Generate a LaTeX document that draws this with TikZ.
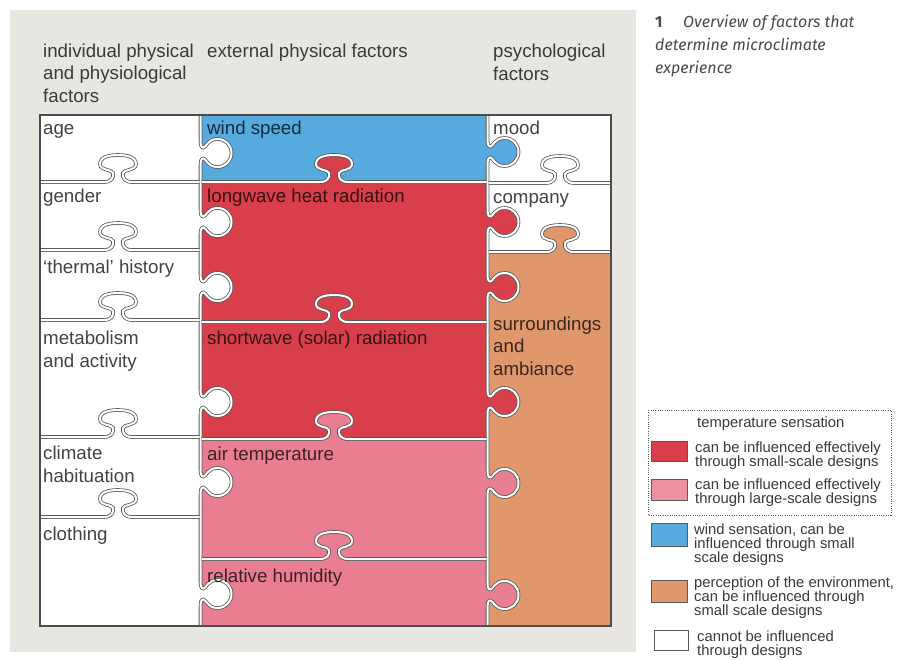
\documentclass[tikz,border=0pt]{standalone}
\usepackage{fontspec}
\setmainfont{Liberation Sans}
\newfontfamily\captionfont{Fira Sans}

\definecolor{panelgray}{HTML}{E7E6E1}
\definecolor{pzblue}{HTML}{56AADE}
\definecolor{pzred}{HTML}{D83F4A}
\definecolor{pzpink}{HTML}{E97E93}
\definecolor{pzorange}{HTML}{E0976B}
\definecolor{seamgray}{HTML}{5A5A5A}
\definecolor{txtgray}{HTML}{3A3A3A}
\definecolor{capgray}{HTML}{4A4A4A}

% knob outline pointing up from a horizontal seam (local coords, base on v=0)
\newcommand\hkc{.. controls (-7,0) and (-4,4) .. (-5,9) .. controls (-6,13) and (-18,11) .. (-18,18) .. controls (-18,25) and (-9,27) .. (0,27) .. controls (9,27) and (18,25) .. (18,18) .. controls (18,11) and (6,13) .. (5,9) .. controls (4,4) and (7,0) .. (14,0)}
% knob outline pointing right from a vertical seam
\newcommand\vkc{.. controls (-8,0) and (-5.5,0.5) .. (-5.5,3) .. controls (-5.5,5.5) and (-14,7) .. (-14,17) .. controls (-14,25) and (-8,31) .. (0,31) .. controls (8,31) and (14,25) .. (14,17) .. controls (14,7) and (5.5,5.5) .. (5.5,3) .. controls (5.5,0.5) and (8,0) .. (14,0)}
% knobs inserted into a seam path
\newcommand\hknob[2]{{[shift={(#1,#2)},yscale=-1] -- (-14,0) \hkc}}
\newcommand\vknob[2]{{[shift={(#1,#2)},rotate=90,xscale=-1] -- (-14,0) \vkc}}
% knob fills
\newcommand\knobfillH[3]{\fill[#1,shift={(#2,#3)},yscale=-1] (-14,0) \hkc -- cycle;}
\newcommand\knobfillV[3]{\fill[#1,shift={(#2,#3)},rotate=90,xscale=-1] (-14,0) \vkc -- cycle;}
% legend font with tight leading
\newcommand\legendfont{\fontsize{14.8}{13.8}\selectfont\lineskiplimit=-8pt\relax}

\begin{document}
\begin{tikzpicture}[x=1pt,y=-1pt,
  seam/.style={draw=seamgray, line width=0.8pt, double=white, double distance=2pt},
  rim/.style={draw=seamgray!85!black, line width=1.2pt},
  head/.style={anchor=base west, inner sep=0pt, align=left, text=txtgray,
    font={\fontsize{18.7}{22.5}\selectfont}},
  plabel/.style={anchor=base west, inner sep=0pt, align=left, text=black, text opacity=0.74,
    font={\fontsize{18.7}{22.5}\selectfont}},
  legtxt/.style={anchor=base west, inner sep=0pt, align=left, text=txtgray,
    font={\legendfont}},
  swatch/.style={draw=seamgray, line width=0.9pt},
  captxt/.style={anchor=base west, inner sep=0pt, align=left, text=capgray,
    font={\captionfont\itshape\fontsize{16}{23}\selectfont}}
]
\fill[white] (0,0) rectangle (901,659);
\useasboundingbox (0,0) rectangle (901,659);

% panel
\fill[panelgray] (10,10) rectangle (636,652);

% ---- puzzle fills ----
\fill[white] (40,115) rectangle (611,626);
\fill[pzblue]   (200.5,115) rectangle (487.5,182);
\fill[pzred]    (200.5,182) rectangle (487.5,439);
\fill[pzpink]   (200.5,439) rectangle (487.5,626);
\fill[pzorange] (487.5,252) rectangle (611,626);

% knobs of the middle column pointing up
\knobfillH{pzred}{334}{182}
\knobfillH{pzred}{334}{322}
\knobfillH{pzpink}{334}{439}
\knobfillH{pzpink}{334}{559}
% knobs of the right column pointing up
\knobfillH{white}{560}{183}
\knobfillH{pzorange}{560}{252}
% knobs of the left column into the middle column
\foreach \k in {153,222,287,402,482,594} {\knobfillV{white}{200.5}{\k}}
% knobs of the middle column into the right column
\knobfillV{pzblue}{487.5}{152}
\knobfillV{pzred}{487.5}{222}
\knobfillV{pzred}{487.5}{287}
\knobfillV{pzred}{487.5}{402}
\knobfillV{pzpink}{487.5}{483}
\knobfillV{pzpink}{487.5}{595}

% ---- seams ----
\draw[seam] (200.5,115) \vknob{200.5}{153} \vknob{200.5}{222} \vknob{200.5}{287}
  \vknob{200.5}{402} \vknob{200.5}{482} \vknob{200.5}{594} -- (200.5,626);
\draw[seam] (487.5,115) \vknob{487.5}{152} \vknob{487.5}{222} \vknob{487.5}{287}
  \vknob{487.5}{402} \vknob{487.5}{483} \vknob{487.5}{595} -- (487.5,626);

\foreach \y in {182,250,320,437,517}
  {\draw[seam] (40,\y) \hknob{118}{\y} -- (199.5,\y);}
\foreach \y in {182,322,439,559}
  {\draw[seam] (201.5,\y) \hknob{334}{\y} -- (486.5,\y);}
\foreach \y in {183,252}
  {\draw[seam] (488.5,\y) \hknob{560}{\y} -- (611,\y);}

\draw[rim] (40,115) rectangle (611,626);

% ---- column headings (anchored at the baseline of the last line) ----
\node[head] (hInd) at (43,102) {individual physical\\and physiological\\factors};
\node[head] (hExt) at (207,57) {external physical factors};
\node[head] (hPsy) at (493,80) {psychological\\factors};

% ---- piece labels ----
\node[plabel] (age)  at (43,134) {age};
\node[plabel] (gen)  at (43,202) {gender};
\node[plabel] (thh)  at (43,273) {`thermal' history};
\node[plabel] (met)  at (43,367) {metabolism\\and activity};
\node[plabel] (cli)  at (43,482) {climate\\habituation};
\node[plabel] (clo)  at (43,540) {clothing};

\node[plabel] (wind) at (207,134) {wind speed};
\node[plabel] (lwr)  at (207,202) {longwave heat radiation};
\node[plabel] (swr)  at (207,344) {shortwave (solar) radiation};
\node[plabel] (air)  at (207,460) {air temperature};
\node[plabel] (rh)   at (207,582) {relative humidity};

\node[plabel] (mood) at (493,134) {mood};
\node[plabel] (comp) at (493,203) {company};
\node[plabel] (surr) at (493,375) {surroundings\\and\\ambiance};

% ---- caption ----
\node[anchor=base west, inner sep=0pt, text=capgray,
  font={\captionfont\bfseries\fontsize{16}{23}\selectfont}] (capnum) at (655,27) {1};
\node[captxt] (cap1) at (683,27) {Overview of factors that};
\node[captxt] (cap2) at (655,73) {determine microclimate\\experience};

% ---- legend ----
\draw[seamgray, line width=0.9pt, dash pattern=on 1pt off 1.3pt] (648,410) rectangle (891,515);
\node[legtxt] (lgT) at (697,427) {temperature sensation};
\draw[swatch, fill=pzred] (651,441) rectangle (687,461);
\node[legtxt] (lgR) at (695,466) {can be influenced effectively\\through small-scale designs};
\draw[swatch, fill=pzpink!85!white] (651,479) rectangle (687,500);
\node[legtxt] (lgP) at (695,503) {can be influenced effectively\\through large-scale designs};
\draw[swatch, fill=pzblue] (651,523) rectangle (687,546);
\node[legtxt] (lgB) at (694,562) {wind sensation, can be\\influenced through small\\scale designs};
\draw[swatch, fill=pzorange] (651,580) rectangle (687,602);
\node[legtxt] (lgO) at (694,615) {perception of the environment,\\can be influenced through\\small scale designs};
\draw[swatch, fill=white] (654,630) rectangle (688,650);
\node[legtxt] (lgW) at (697,655) {cannot be influenced\\through designs};
\end{tikzpicture}
\end{document}
